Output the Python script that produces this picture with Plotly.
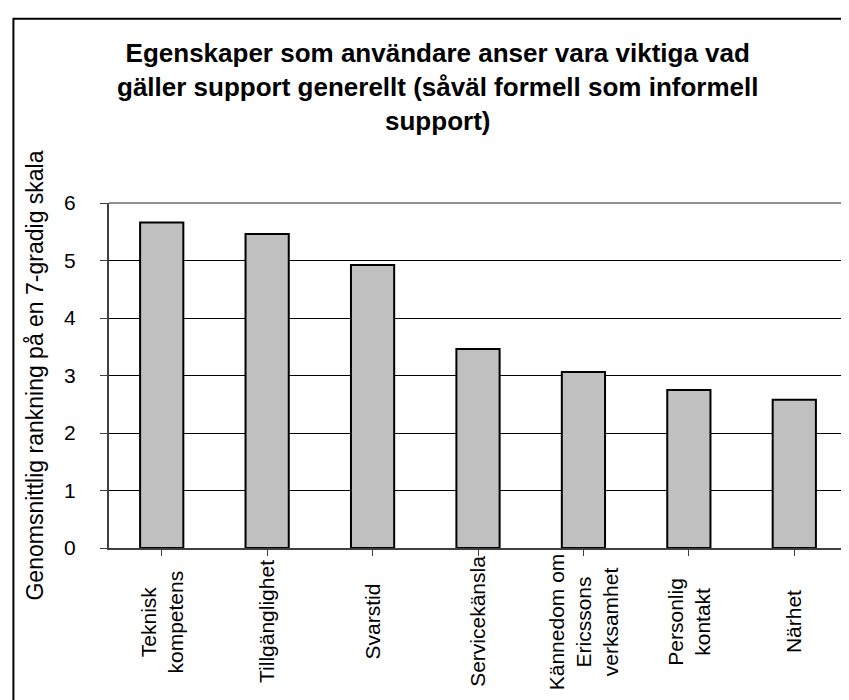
import plotly.graph_objects as go

categories = ["Teknisk<br>kompetens", "Tillgänglighet", "Svarstid", "Servicekänsla",
              "Kännedom om<br>Ericssons<br>verksamhet", "Personlig<br>kontakt", "Närhet"]
values = [5.66, 5.46, 4.92, 3.46, 3.06, 2.75, 2.58]
y_ticks = [0, 1, 2, 3, 4, 5, 6]
title_lines = ["Egenskaper som användare anser vara viktiga vad",
               "gäller support generellt (såväl formell som informell",
               "support)"]
y_title = "Genomsnittlig rankning på en 7-gradig skala"

FONT = "Liberation Sans, Arial, sans-serif"

fig = go.Figure()
fig.add_trace(go.Bar(
    x=list(range(len(categories))), y=values,
    marker=dict(color="#C0C0C0", line=dict(color="black", width=2)),
    width=0.41, hoverinfo="skip",
))

annotations = []
for i, c in enumerate(categories):
    annotations.append(dict(
        x=i, y=-0.214, xref="x", yref="paper", text=c, showarrow=False,
        textangle=-90, xanchor="center", yanchor="middle", align="center",
        font=dict(family=FONT, size=21, color="black"),
    ))
annotations.append(dict(
    x=0.446, y=1.335, xref="paper", yref="paper",
    text="<br>".join("<b>" + t + "</b>" for t in title_lines),
    showarrow=False, xanchor="center", yanchor="middle", align="center",
    font=dict(family=FONT, size=26, color="black"),
))

fig.update_layout(
    width=849, height=700,
    margin=dict(l=101, r=10, t=195, b=160),
    paper_bgcolor="white", plot_bgcolor="white",
    showlegend=False,
    annotations=annotations,
    xaxis=dict(
        range=[-0.5, len(categories) - 0.5],
        tickvals=list(range(len(categories))), ticktext=["" for _ in categories],
        tickson="boundaries", ticks="outside", ticklen=6, tickcolor="#404040",
        showline=True, linecolor="#404040", linewidth=2, mirror=False,
        showgrid=False, zeroline=False, fixedrange=True,
    ),
    yaxis=dict(
        range=[0, 6], tickvals=y_ticks, ticktext=[str(t) for t in y_ticks],
        ticks="outside", ticklen=7, tickcolor="#404040", ticklabelstandoff=20,
        tickfont=dict(family=FONT, size=21, color="black"),
        showline=True, linecolor="#404040", linewidth=2,
        showgrid=True, gridcolor="black", gridwidth=1, zeroline=False,
        title=dict(text=y_title, standoff=14, font=dict(family=FONT, size=23, color="black")),
        fixedrange=True,
    ),
    shapes=[
        dict(type="line", xref="paper", yref="paper", x0=0, x1=1, y0=1, y1=1,
             line=dict(color="#909090", width=2)),
        dict(type="line", xref="paper", yref="paper", x0=1, x1=1, y0=0, y1=1,
             line=dict(color="#909090", width=2)),
        dict(type="rect", xref="paper", yref="paper", x0=-0.1295, x1=1.05, y0=-0.5, y1=1.534,
             line=dict(color="black", width=2), fillcolor="rgba(0,0,0,0)", layer="above"),
    ],
)

fig.write_html("out.html")
